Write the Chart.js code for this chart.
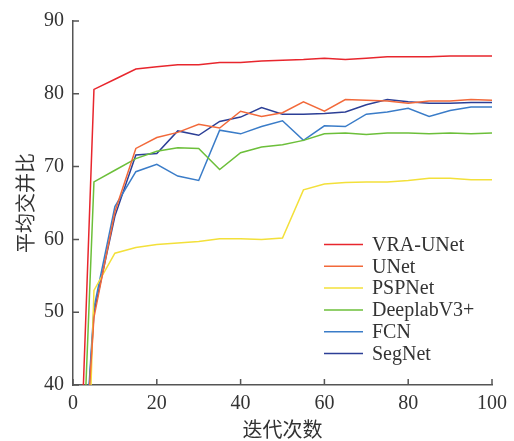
<!DOCTYPE html>
<html>
<head>
<meta charset="utf-8">
<script src="https://cdn.jsdelivr.net/npm/chart.js@4"></script>
<style>
    body { margin: 0; background: #fff; }
    canvas { display: block; }
</style>
</head>
<body>
<canvas id="chart" width="514" height="441"></canvas>
<script>
var epochs = [0, 5, 10, 15, 20, 25, 30, 35, 40, 45, 50, 55, 60, 65, 70, 75, 80, 85, 90, 95, 100];
var vraUNet = [0, 80.6, 82.0, 83.4, 83.7, 84.0, 84.0, 84.3, 84.3, 84.5, 84.6, 84.7, 84.9, 84.7, 84.9, 85.1, 85.1, 85.1, 85.2, 85.2, 85.2];
var uNet = [4, 49.3, 63.8, 72.5, 74.0, 74.7, 75.8, 75.3, 77.6, 76.9, 77.4, 78.9, 77.6, 79.2, 79.1, 79.0, 78.7, 79.0, 79.0, 79.2, 79.1];
var pspNet = [-40, 53.0, 58.1, 58.9, 59.3, 59.5, 59.7, 60.1, 60.1, 60.0, 60.2, 66.8, 67.6, 67.8, 67.9, 67.9, 68.1, 68.4, 68.4, 68.2, 68.2];
var deeplab = [-5, 67.9, 69.5, 71.1, 72.1, 72.6, 72.5, 69.6, 71.9, 72.7, 73.0, 73.6, 74.5, 74.6, 74.4, 74.6, 74.6, 74.5, 74.6, 74.5, 74.6];
var fcn = [5, 50.6, 64.5, 69.3, 70.3, 68.7, 68.1, 75.0, 74.5, 75.5, 76.3, 73.6, 75.6, 75.5, 77.2, 77.5, 78.0, 76.9, 77.7, 78.2, 78.2];
var segNet = [4, 49.9, 63.2, 71.6, 71.8, 74.9, 74.3, 76.2, 76.8, 78.1, 77.2, 77.2, 77.3, 77.5, 78.5, 79.2, 78.9, 78.7, 78.7, 78.8, 78.8];

var seriesNames = ["VRA-UNet", "UNet", "PSPNet", "DeeplabV3+", "FCN", "SegNet"];
var seriesData = [vraUNet, uNet, pspNet, deeplab, fcn, segNet];
var seriesColors = ["#e8262d", "#f2693a", "#f3e03a", "#6cbf3a", "#3a7cc8", "#2c3f96"];

var xTicks = [0, 20, 40, 60, 80, 100];
var yTicks = [40, 50, 60, 70, 80, 90];

const TICK_FONT = { family: "'Liberation Serif', 'Times New Roman', serif", size: 20 };
const CJK_FONT = { family: "'Noto Sans CJK SC', sans-serif", size: 20 };
const AXIS_COLOR = "#555";
const TEXT_COLOR = "#333";

function toPoints(values) {
    var pts = [];
    for (var i = 0; i < epochs.length; i++) {
        pts.push({ x: epochs[i], y: values[i] });
    }
    return pts;
}

var datasets = [];
for (var i = 0; i < seriesNames.length; i++) {
    datasets.push({
        label: seriesNames[i],
        data: toPoints(seriesData[i]),
        borderColor: seriesColors[i],
        backgroundColor: seriesColors[i],
        borderWidth: 1.5,
        pointRadius: 0,
        tension: 0,
        fill: false
    });
}

//short tick marks pointing into the plot
var inwardTicks = {
    id: "inwardTicks",
    afterDraw: function (chart) {
        var ctx = chart.ctx;
        var area = chart.chartArea;
        ctx.save();
        ctx.strokeStyle = AXIS_COLOR;
        ctx.lineWidth = 1.5;
        ctx.beginPath();
        for (var i = 0; i < xTicks.length; i++) {
            var x = chart.scales.x.getPixelForValue(xTicks[i]);
            ctx.moveTo(x, area.bottom);
            ctx.lineTo(x, area.bottom - 6);
        }
        for (var j = 0; j < yTicks.length; j++) {
            var y = chart.scales.y.getPixelForValue(yTicks[j]);
            ctx.moveTo(area.left, y);
            ctx.lineTo(area.left + 6, y);
        }
        ctx.stroke();
        ctx.restore();
    }
};

//legend drawn inside the plot, lower right
var insideLegend = {
    id: "insideLegend",
    afterDraw: function (chart) {
        var ctx = chart.ctx;
        var lineX = 324, lineLen = 39, textX = 372, rowY = 244.5, rowGap = 21.8;
        ctx.save();
        ctx.font = TICK_FONT.size + "px " + TICK_FONT.family;
        ctx.textBaseline = "middle";
        ctx.textAlign = "left";
        chart.data.datasets.forEach(function (ds, i) {
            var y = rowY + rowGap * i;
            ctx.beginPath();
            ctx.strokeStyle = ds.borderColor;
            ctx.lineWidth = 1.5;
            ctx.moveTo(lineX, y);
            ctx.lineTo(lineX + lineLen, y);
            ctx.stroke();
            ctx.fillStyle = TEXT_COLOR;
            ctx.fillText(ds.label, textX, y + 1);
        });
        ctx.restore();
    }
};

var ctx = document.getElementById("chart").getContext("2d");
new Chart(ctx, {
    type: "line",
    data: { datasets: datasets },
    options: {
        responsive: false,
        animation: false,
        layout: { padding: { top: 16, right: 22, left: 0, bottom: 0 } },
        plugins: {
            legend: { display: false },
            tooltip: { enabled: false }
        },
        scales: {
            x: {
                type: "linear",
                min: 0,
                max: 100,
                afterBuildTicks: function (scale) {
                    scale.ticks = xTicks.map(function (v) { return { value: v }; });
                },
                afterFit: function (scale) { scale.height = 56; },
                grid: { display: false, drawTicks: false },
                border: { display: true, color: AXIS_COLOR, width: 1.5 },
                ticks: { font: TICK_FONT, color: TEXT_COLOR, padding: 7, maxRotation: 0 },
                title: {
                    display: true,
                    text: "迭代次数",
                    font: CJK_FONT,
                    color: TEXT_COLOR,
                    padding: { top: 0, bottom: 0 }
                }
            },
            y: {
                min: 40,
                max: 90,
                afterBuildTicks: function (scale) {
                    scale.ticks = yTicks.map(function (v) { return { value: v }; });
                },
                afterFit: function (scale) { scale.width = 73; },
                grid: { display: false, drawTicks: false },
                border: { display: true, color: AXIS_COLOR, width: 1.5 },
                ticks: { font: TICK_FONT, color: TEXT_COLOR, padding: 9 },
                title: {
                    display: true,
                    text: "平均交并比",
                    font: CJK_FONT,
                    color: TEXT_COLOR,
                    padding: { top: 13, bottom: 0 }
                }
            }
        }
    },
    plugins: [inwardTicks, insideLegend]
});
</script>
</body>
</html>
